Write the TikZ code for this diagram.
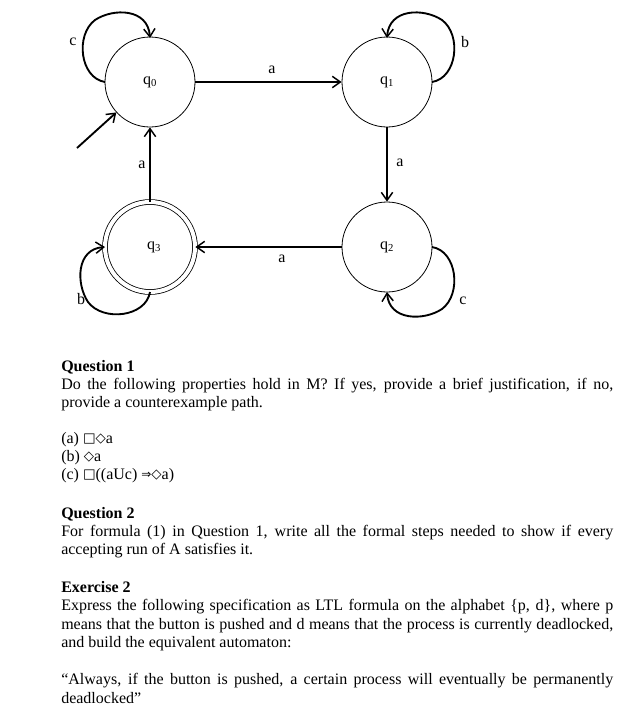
\documentclass[tikz,border=0pt]{standalone}
\usepackage{fontspec}
\setmainfont{Liberation Serif}
\newfontfamily\symf{DejaVu Sans}
\usetikzlibrary{arrows.meta}
\newcommand{\Sq}{\raisebox{0.4pt}{\symf\fontsize{10}{10}\selectfont □}}
\newcommand{\Dm}{\raisebox{0.4pt}{\symf\fontsize{10}{10}\selectfont ◇}}
\newcommand{\Impl}{\raisebox{0.4pt}{\symf\fontsize{9}{9}\selectfont ⇒}}
\begin{document}
\begin{tikzpicture}[x=0.75pt,y=-0.75pt,
  state/.style={circle,draw,line width=0.6pt,minimum size=67.5pt,inner sep=0pt,font=\fontsize{12}{12}\selectfont},
  edge/.style={line width=1.4pt,-{Straight Barb[length=6pt,width=8.5pt,line width=1.1pt]}},
  lbl/.style={inner sep=0pt,font=\fontsize{12}{12}\selectfont},
  txt/.style={anchor=base west,inner sep=0pt,font=\fontsize{12}{13.8}\selectfont}]
\useasboundingbox (0,0) rectangle (643,715);
% states
\node[state] (q0) at (150,82) {q\textsubscript{0}};
\node[state] (q1) at (387,82) {q\textsubscript{1}};
\node[state] (q2) at (387,247) {q\textsubscript{2}};
\node[state,double,double distance=3pt] (q3) at (150,247) {\hspace{6pt}q\textsubscript{3}};
\coordinate (init) at (77,148);
% edges
\draw[edge] (q0.east) -- (q1.west);
\draw[edge] (q1.south) -- (q2.north);
\draw[edge] (q2.west) -- (q3.east);
\draw[edge] (q3.north) -- (q0.south);
\draw[edge] (init) -- (q0);
% self loops
\begin{scope}[shift={(q0.center)}]
\draw[edge] (-45,0) .. controls (-70,-4) and (-75,-47) .. (-55,-62) .. controls (-37,-74) and (-2,-74) .. (0,-44);
\end{scope}
\begin{scope}[shift={(q1.center)},xscale=-1]
\draw[edge] (-45,0) .. controls (-70,-4) and (-75,-47) .. (-55,-62) .. controls (-37,-74) and (-2,-74) .. (0,-44);
\end{scope}
\begin{scope}[shift={(q2.center)},xscale=-1,yscale=-1]
\draw[edge] (-45,0) .. controls (-70,-4) and (-75,-47) .. (-55,-62) .. controls (-37,-74) and (-2,-74) .. (0,-45);
\end{scope}
\begin{scope}[shift={(q3.center)}]
\draw[edge] (0,45) .. controls (-4,70) and (-47,75) .. (-62,55) .. controls (-74,37) and (-74,2) .. (-45,0);
\end{scope}
% labels
\node[lbl] (la01) at (272,70) {a};
\node[lbl] (la12) at (400,163) {a};
\node[lbl] (la23) at (282,259) {a};
\node[lbl] (la30) at (142,165) {a};
\node[lbl] (lc0) at (73,42) {c};
\node[lbl] (lb1) at (465,42) {b};
\node[lbl] (lc2) at (463,301) {c};
\node[lbl] (lb3) at (81,299) {b};
% text
\node[txt] (t1) at (61,371) {\bfseries Question 1};
\node[txt] (t2) at (61,389) {\makebox[414pt][s]{Do the following properties hold in M? If yes, provide a brief justification, if no,}};
\node[txt] (t3) at (61,407) {provide a counterexample path.};
\node[txt] (t4) at (61,443) {(a) \Sq\Dm a};
\node[txt] (t5) at (61,461) {(b) \Dm a};
\node[txt] (t6) at (61,479) {(c) \Sq((aUc) \Impl\Dm a)};
\node[txt] (t7) at (61,518) {\bfseries Question 2};
\node[txt] (t8) at (61,536) {\makebox[414pt][s]{For formula (1) in Question 1, write all the formal steps needed to show if every}};
\node[txt] (t9) at (61,554) {accepting run of A satisfies it.};
\node[txt] (t10) at (61,592) {\bfseries Exercise 2};
\node[txt] (t11) at (61,610) {\makebox[414pt][s]{Express the following specification as LTL formula on the alphabet \{p, d\}, where p}};
\node[txt] (t12) at (61,629) {\makebox[414pt][s]{means that the button is pushed and d means that the process is currently deadlocked,}};
\node[txt] (t13) at (61,647) {and build the equivalent automaton:};
\node[txt] (t14) at (61,684) {\makebox[414pt][s]{“Always, if the button is pushed, a certain process will eventually be permanently}};
\node[txt] (t15) at (61,703) {deadlocked”};
\end{tikzpicture}
\end{document}
